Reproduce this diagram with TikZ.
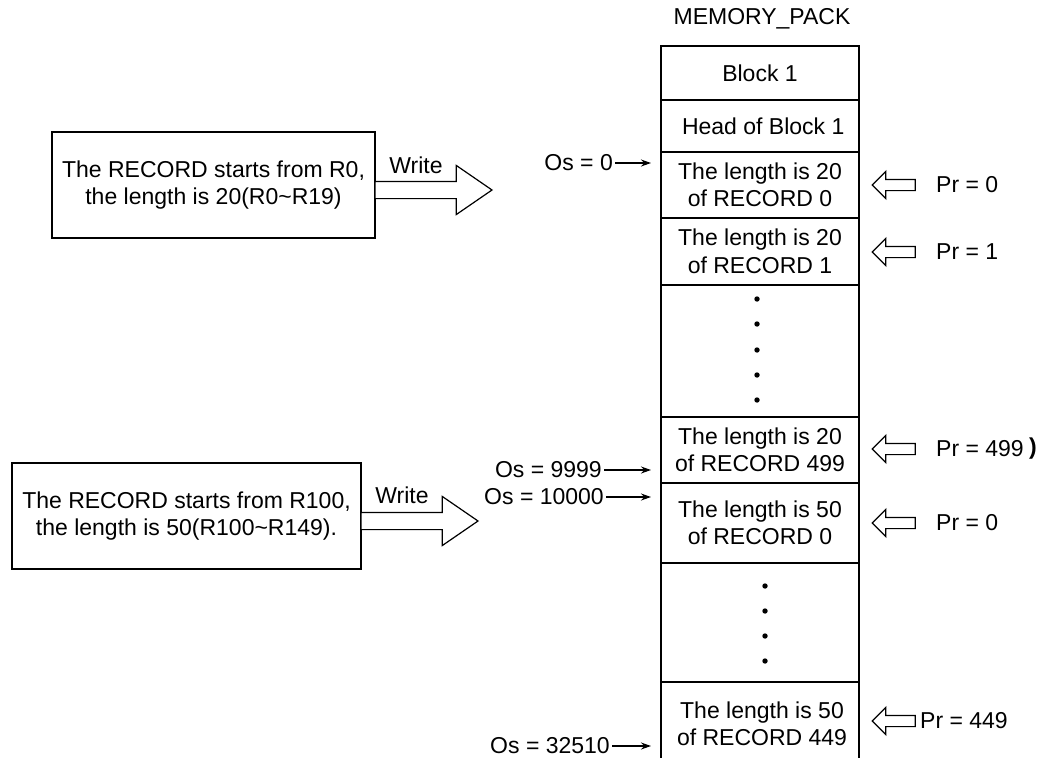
\documentclass[tikz,border=0pt]{standalone}
\usepackage{fontspec}
\setmainfont{Liberation Sans}
\usetikzlibrary{arrows.meta,shapes.arrows}
\begin{document}
\begin{tikzpicture}[x=1pt,y=-1pt,font=\fontsize{23}{27.5}\selectfont,
    cell/.style={draw,line width=1.2pt,minimum width=198pt,align=center,inner sep=0pt,outer sep=0pt},
    recbox/.style={draw,line width=1.2pt,align=center,minimum height=106pt,outer sep=0pt},
    lbl/.style={inner sep=2pt},
    wrarrow/.style={single arrow,draw,line width=1.2pt,fill=white,minimum height=117pt,inner sep=8pt,
      single arrow head extend=16pt,single arrow tip angle=69,outer sep=0pt,anchor=tail},
    prarrow/.style={single arrow,draw,line width=1.2pt,shape border rotate=180,minimum height=43pt,
      inner sep=5pt,single arrow head extend=8pt,outer sep=0pt},
    osarr/.style={line width=1.2pt,-{Stealth[length=10pt,width=7pt]},shorten >=10pt}]
  \useasboundingbox (0,0) rectangle (1040,757);
  \node (title) at (762,19) {MEMORY\_PACK};
  \node[cell,minimum height=54pt] (blk) at (760,73) {Block 1};
  \node[cell,minimum height=52pt] (head) at (760,126) {\ Head of Block 1};
  \node[cell,minimum height=66pt] (r0) at (760,185) {The length is 20\\of RECORD 0};
  \node[cell,minimum height=67pt] (r1) at (760,251.5) {The length is 20\\of RECORD 1};
  \node[cell,minimum height=132pt] (dots1) at (760,351) {};
  \node[cell,minimum height=66pt] (r499) at (760,450) {The length is 20\\of RECORD 499};
  \node[cell,minimum height=80pt] (r50) at (760,523) {The length is 50\\of RECORD 0};
  \node[cell,minimum height=119pt] (dots2) at (760,622.5) {};
  \node[align=center] (r449) at (762,724) {The length is 50\\of RECORD 449};
  \draw[line width=1.2pt] (dots2.south west) -- (dots2.south west |- 0,790);
  \draw[line width=1.2pt] (dots2.south east) -- (dots2.south east |- 0,790);
  \foreach \y in {299,324,350,375,400} \fill (757,\y) circle (2.7pt);
  \foreach \y in {586,611,636,661} \fill (765,\y) circle (2.7pt);

  \node[recbox,minimum width=323pt] (box1) at (213.5,185) {The RECORD starts from R0,\\the length is 20(R0\textasciitilde R19)};
  \node[wrarrow] (wa1) at ([yshift=-5pt]box1.east) {};
  \node (wr1) at (416,165) {Write};
  \node[recbox,minimum width=349pt] (box2) at (186.5,516) {The RECORD starts from R100,\\the length is 50(R100\textasciitilde R149).};
  \node[wrarrow] (wa2) at ([yshift=-5pt]box2.east) {};
  \node (wr2) at (402,495) {Write};

  \node[lbl,anchor=east] (os0) at (615,163) {Os = 0};
  \node[lbl,anchor=east] (os9999) at (604,470) {Os = 9999};
  \node[lbl,anchor=east] (os10000) at (606,497) {Os = 10000};
  \node[lbl,anchor=east] (os32510) at (612,746) {Os = 32510};
  \draw[osarr] (os0) -- (os0 -| r0.west);
  \draw[osarr] (os9999) -- (os9999 -| r499.west);
  \draw[osarr] (os10000) -- (os10000 -| r50.west);
  \draw[osarr] (os32510) -- (os32510 -| r50.west);

  \node[prarrow] (pa0) at (896.5,185) {};
  \node[lbl,anchor=west] (pr0) at (934,185) {Pr = 0};
  \node[prarrow] (pa1) at (896.5,252) {};
  \node[lbl,anchor=west] (pr1) at (934,252) {Pr = 1};
  \node[prarrow] (pa499) at (896.5,449) {};
  \node[lbl,anchor=west] (pr499) at (934,449) {Pr = 499};
  \node (prx) at (1033,449) {\textbf{)}};
  \node[prarrow] (pa50) at (896.5,523) {};
  \node[lbl,anchor=west] (pr50) at (934,523) {Pr = 0};
  \node[prarrow] (pa449) at (896.5,721) {};
  \node[lbl,anchor=west] (pr449) at (918,721) {Pr = 449};
\end{tikzpicture}
\end{document}
